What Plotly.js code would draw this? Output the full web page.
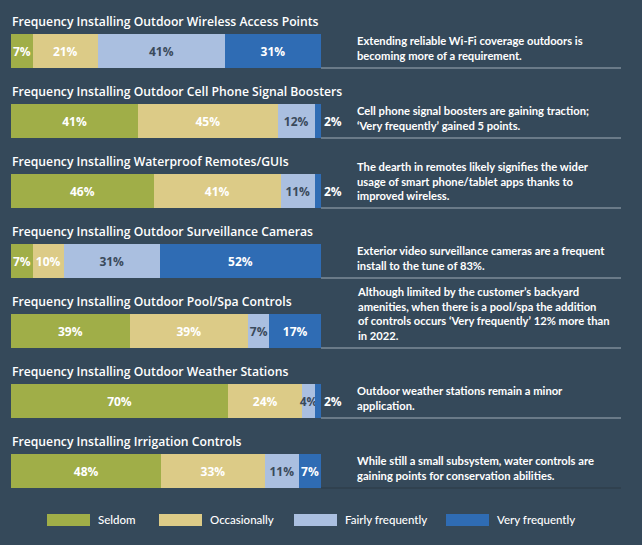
<!DOCTYPE html>
<html>
<head>
<meta charset="utf-8">
<script src="https://cdn.plot.ly/plotly-3.0.1.min.js"></script>
<style>
html,body{margin:0;padding:0;background:#35495a;}
#chart{width:642px;height:545px;}
</style>
</head>
<body>
<div id="chart"></div>
<script>
// ---- data ----
const categories = [
  'Frequency Installing Outdoor Wireless Access Points',
  'Frequency Installing Outdoor Cell Phone Signal Boosters',
  'Frequency Installing Waterproof Remotes/GUIs',
  'Frequency Installing Outdoor Surveillance Cameras',
  'Frequency Installing Outdoor Pool/Spa Controls',
  'Frequency Installing Outdoor Weather Stations',
  'Frequency Installing Irrigation Controls'
];
const seriesNames = ['Seldom', 'Occasionally', 'Fairly frequently', 'Very frequently'];
const seldom       = [7, 41, 46, 7, 39, 70, 48];
const occasionally = [21, 45, 41, 10, 39, 24, 33];
const fairly       = [41, 12, 11, 31, 7, 4, 11];
const veryFreq     = [31, 2, 2, 52, 17, 2, 7];
const notes = [
  'Extending reliable Wi-Fi coverage outdoors is<br>becoming more of a requirement.',
  'Cell phone signal boosters are gaining traction;<br>‘Very frequently’ gained 5 points.',
  'The dearth in remotes likely signifies the wider<br>usage of smart phone/tablet apps thanks to<br>improved wireless.',
  'Exterior video surveillance cameras are a frequent<br>install to the tune of 83%.',
  'Although limited by the customer’s backyard<br>amenities, when there is a pool/spa the addition<br>of controls occurs ‘Very frequently’ 12% more than<br>in 2022.',
  'Outdoor weather stations remain a minor<br>application.',
  'While still a small subsystem, water controls are<br>gaining points for conservation abilities.'
];

// ---- styles ----
const W = 642, H = 545;
const colors = ['#a0ae48', '#dccb87', '#aabfe0', '#2f6cb4'];
const labelColors = ['#ffffff', '#ffffff', '#3a4a5b', '#ffffff'];
const bg = '#35495a';
const titleFont = 'Open Sans, sans-serif';
const noteFont = 'Lato, sans-serif';
const barFont = 'Open Sans, sans-serif';

const rowPx = 70, firstCenter = 51, barPx = 34;
const yTop = -firstCenter / rowPx;
const yBot = yTop + H / rowPx;
const barW = barPx / rowPx;
const xLeftPx = 11, xRightPx = 321;
const xPerPx = 100 / (xRightPx - xLeftPx);
const xMin = -xLeftPx * xPerPx, xMax = xMin + W * xPerPx;

const idx = categories.map((_, i) => i);
const allSeries = [seldom, occasionally, fairly, veryFreq];

const traces = allSeries.map((vals, s) => ({
  type: 'bar',
  orientation: 'h',
  name: seriesNames[s],
  y: idx,
  x: vals,
  width: barW,
  marker: {color: colors[s], line: {width: 0}},
  text: vals.map(v => v + '%'),
  texttemplate: '%{text}',
  textposition: vals.map(v => (s === 3 && v <= 3) ? 'outside' : 'inside'),
  insidetextanchor: 'middle',
  textangle: 0,
  insidetextfont: {family: barFont, size: 12, color: labelColors[s], weight: 700},
  outsidetextfont: {family: barFont, size: 12, color: '#ffffff', weight: 700},
  cliponaxis: false,
  hoverinfo: 'skip',
  showlegend: false
}));

const annotations = [];
const shapes = [];
categories.forEach((c, i) => {
  annotations.push({
    text: c, xref: 'paper', yref: 'y', x: xLeftPx / W - 0.001, y: i - 0.42,
    xanchor: 'left', yanchor: 'middle', showarrow: false,
    font: {family: titleFont, size: 12.2, color: '#ffffff', weight: 600}
  });
  annotations.push({
    text: notes[i], xref: 'paper', yref: 'y', x: 355 / W, y: i + barW / 2,
    xanchor: 'left', yanchor: 'bottom', yshift: 4, align: 'left', showarrow: false,
    font: {family: noteFont, size: 11.2, color: '#ffffff', weight: 700}
  });
  shapes.push({
    type: 'line', xref: 'paper', yref: 'y',
    x0: xRightPx / W, x1: 621 / W, y0: i + barW / 2, y1: i + barW / 2,
    line: {color: i === categories.length - 1 ? '#2f3f4d' : '#7d8b98', width: 1.5}
  });
});

// legend (drawn as swatches + labels)
const legX = [47, 159, 294, 446];
seriesNames.forEach((n, s) => {
  shapes.push({
    type: 'rect', xref: 'paper', yref: 'paper',
    x0: legX[s] / W, x1: (legX[s] + 43) / W,
    y0: 1 - 526 / H, y1: 1 - 514 / H,
    fillcolor: colors[s], line: {width: 0}
  });
  annotations.push({
    text: n, xref: 'paper', yref: 'paper', x: (legX[s] + 49) / W, y: 1 - 519.5 / H,
    xanchor: 'left', yanchor: 'middle', showarrow: false,
    font: {family: noteFont, size: 11.5, color: '#ffffff', weight: 500}
  });
});

const layout = {
  width: W, height: H,
  margin: {l: 0, r: 0, t: 0, b: 0, pad: 0},
  paper_bgcolor: bg, plot_bgcolor: bg,
  barmode: 'stack',
  barnorm: 'percent',
  uniformtext: {mode: 'show', minsize: 11},
  xaxis: {range: [xMin, xMax], visible: false, fixedrange: true},
  yaxis: {range: [yBot, yTop], visible: false, fixedrange: true},
  showlegend: false,
  hovermode: false,
  annotations: annotations,
  shapes: shapes
};

Plotly.newPlot('chart', traces, layout, {displayModeBar: false, staticPlot: true});
</script>
</body>
</html>
